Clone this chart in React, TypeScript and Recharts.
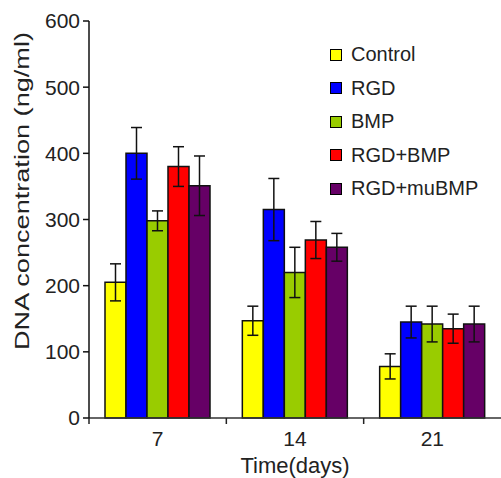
import React from "react";
import { BarChart, Bar, XAxis, YAxis, ErrorBar, Legend, Label } from "recharts";

const days = ["7", "14", "21"];
const control = [205, 147, 78];
const controlErr = [28, 22, 19];
const rgd = [400, 315, 145];
const rgdErr = [39, 47, 24];
const bmp = [298, 220, 142];
const bmpErr = [15, 38, 27];
const rgdBmp = [380, 269, 135];
const rgdBmpErr = [30, 28, 22];
const rgdMuBmp = [351, 258, 142];
const rgdMuBmpErr = [45, 21, 27];
const yTicks = [0, 100, 200, 300, 400, 500, 600];

const data = days.map((d, i) => ({
  day: d,
  control: control[i],
  controlErr: controlErr[i],
  rgd: rgd[i],
  rgdErr: rgdErr[i],
  bmp: bmp[i],
  bmpErr: bmpErr[i],
  rgdBmp: rgdBmp[i],
  rgdBmpErr: rgdBmpErr[i],
  rgdMuBmp: rgdMuBmp[i],
  rgdMuBmpErr: rgdMuBmpErr[i],
}));

const FONT = '"Liberation Sans", Arial, sans-serif';
const TEXT = "#222";
const W = 501;
const H = 478;
const Y_AXIS_W = 89;
const BAND = (W - Y_AXIS_W) / days.length;

const series = [
  { key: "control", name: "Control", color: "#FFFF00" },
  { key: "rgd", name: "RGD", color: "#0000FF" },
  { key: "bmp", name: "BMP", color: "#99CC00" },
  { key: "rgdBmp", name: "RGD+BMP", color: "#FF0000" },
  { key: "rgdMuBmp", name: "RGD+muBMP", color: "#660066" },
];
const order = series.map((s) => s.name);

function DayTick(props: any) {
  const { x, y, payload } = props;
  const bx = x - BAND / 2;
  return (
    <g>
      <line x1={bx} y1={y - 6} x2={bx} y2={y} stroke="#222" strokeWidth={1.5} />
      <text x={x} y={y + 22} textAnchor="middle" fontSize={21} fill={TEXT} fontFamily={FONT}>
        {payload.value}
      </text>
    </g>
  );
}

function LegendBox({ payload }: any) {
  const items = [...(payload || [])].sort(
    (a: any, b: any) => order.indexOf(a.value) - order.indexOf(b.value)
  );
  return (
    <div style={{ fontFamily: FONT }}>
      {items.map((e: any) => (
        <div key={e.value} style={{ display: "flex", alignItems: "center", height: 33.5 }}>
          <span
            style={{
              width: 10,
              height: 10,
              background: e.color,
              border: "1px solid #000",
              display: "inline-block",
            }}
          />
          <span style={{ marginLeft: 9, fontSize: 20, color: TEXT }}>{e.value}</span>
        </div>
      ))}
    </div>
  );
}

export default function App() {
  return (
    <div style={{ position: "absolute", left: 0, top: 0, width: W, height: H, background: "#fff" }}>
      <BarChart
        width={W}
        height={H}
        data={data}
        margin={{ top: 21, right: 0, bottom: 0, left: 0 }}
        barGap={0}
        barSize={21}
      >
        <XAxis
          dataKey="day"
          height={60}
          tickLine={false}
          tickSize={6}
          tickMargin={0}
          axisLine={{ stroke: "#333", strokeWidth: 1.5 }}
          tick={<DayTick />}
          interval={0}
        >
          <Label
            value="Time(days)"
            position="insideBottom"
            offset={5}
            style={{ fontSize: 22, fill: TEXT, fontFamily: FONT }}
          />
        </XAxis>
        <YAxis
          width={Y_AXIS_W}
          domain={[0, 600]}
          ticks={yTicks}
          interval={0}
          tickSize={6}
          tickMargin={3}
          axisLine={{ stroke: "#111", strokeWidth: 1.5 }}
          tickLine={{ stroke: "#111", strokeWidth: 1.5 }}
          tick={{ fontSize: 21, fill: TEXT, fontFamily: FONT }}
        >
          <Label
            content={() => (
              <text
                transform="translate(29,191) rotate(-90)"
                textAnchor="middle"
                fontSize={21}
                fill={TEXT}
                fontFamily={FONT}
                textLength={318}
                lengthAdjust="spacingAndGlyphs"
              >
                DNA concentration (ng/ml)
              </text>
            )}
          />
        </YAxis>
        <Legend
          layout="vertical"
          align="center"
          verticalAlign="middle"
          wrapperStyle={{ position: "absolute", left: 330, top: 38, width: 170 }}
          content={<LegendBox />}
        />
        {series.map((s) => (
          <Bar
            key={s.key}
            dataKey={s.key}
            name={s.name}
            fill={s.color}
            stroke="#111"
            strokeWidth={1.5}
            isAnimationActive={false}
          >
            <ErrorBar dataKey={s.key + "Err"} width={5.5} stroke="#111" strokeWidth={1.5} direction="y" />
          </Bar>
        ))}
      </BarChart>
    </div>
  );
}
